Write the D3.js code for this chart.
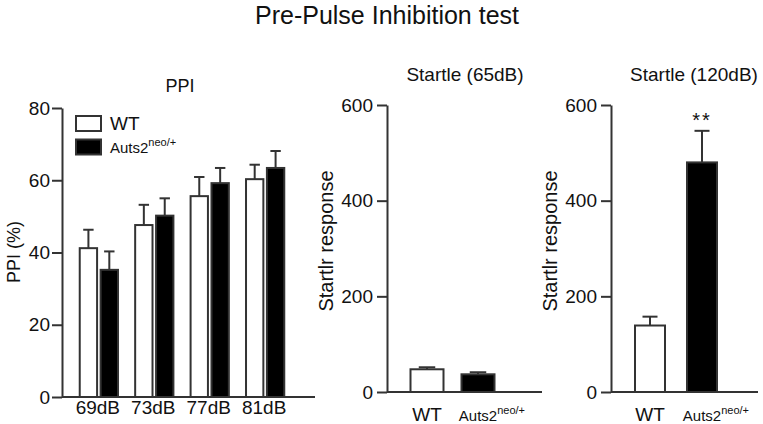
<!DOCTYPE html>
<html lang="en">
<head>
    <meta charset="UTF-8">
    <title>Pre-Pulse Inhibition test</title>
    <script src="https://d3js.org/d3.v7.min.js"></script>
    <style>
        body { margin: 0; background: #fff; }
        text {
            font-family: "Liberation Sans", Arial, Helvetica, sans-serif;
            fill: #111;
        }
        .axis path, .axis line {
            stroke: #333;
            stroke-width: 2px;
        }
        .axis text { font-size: 19px; }
    </style>
</head>
<body>
    <script>
        // Data
        const dbLevels = ["69dB", "73dB", "77dB", "81dB"];
        const ppiWT = [41.2, 47.6, 55.6, 60.3];
        const ppiWTErr = [5.1, 5.6, 5.3, 4.0];
        const ppiKO = [35.2, 50.2, 59.2, 63.4];
        const ppiKOErr = [5.1, 4.8, 4.2, 4.7];

        const genotypes = ["WT", "Auts2"];
        const startle65 = [47.5, 37];
        const startle65Err = [4.2, 4.3];
        const startle120 = [139, 480];
        const startle120Err = [18.5, 66];

        const ppiTicks = [0, 20, 40, 60, 80];
        const startleTicks = [0, 200, 400, 600];

        const width = 763, height = 424;
        const fill = { WT: "#fff", Auts2: "#000" };

        const svg = d3.select("body").append("svg")
            .attr("width", width)
            .attr("height", height);

        svg.append("text")
            .attr("x", 387)
            .attr("y", 24)
            .attr("text-anchor", "middle")
            .style("font-size", "25px")
            .text("Pre-Pulse Inhibition test");

        // width of a plain string at a given font size
        function textWidth(str, size) {
            const t = svg.append("text").style("font-size", size + "px").text(str);
            const w = t.node().getComputedTextLength();
            t.remove();
            return w;
        }

        // draws "Auts2" with superscript, base word centred (or started) at x
        function auts2Label(g, x, y, anchor) {
            const x0 = anchor === "middle" ? x - textWidth("Auts2", 15) / 2 : x;
            const t = g.append("text")
                .attr("x", x0)
                .attr("y", y)
                .style("font-size", "15px");
            t.append("tspan").text("Auts2");
            t.append("tspan")
                .attr("dy", -7)
                .style("font-size", "11px")
                .text("neo/+");
        }

        function errBar(g, cx, yTop, yErr, capW) {
            g.append("line")
                .attr("x1", cx).attr("x2", cx)
                .attr("y1", yTop).attr("y2", yErr)
                .attr("stroke", "#333").attr("stroke-width", 2);
            g.append("line")
                .attr("x1", cx - capW / 2).attr("x2", cx + capW / 2)
                .attr("y1", yErr).attr("y2", yErr)
                .attr("stroke", "#333").attr("stroke-width", 2);
        }

        function bar(g, x, w, y0, y1, key) {
            g.append("rect")
                .attr("x", x)
                .attr("y", y1)
                .attr("width", w)
                .attr("height", y0 - y1)
                .attr("fill", fill[key])
                .attr("stroke", "#333")
                .attr("stroke-width", 2);
        }

        // ---------- Panel 1: PPI ----------
        const p1 = svg.append("g");
        const y1 = d3.scaleLinear().domain([0, 80]).range([397, 108]);
        const xGroup = d3.scaleBand().domain(dbLevels).range([62, 302])
            .paddingInner(0.31).paddingOuter(0.32);
        const xSub = d3.scaleBand().domain(genotypes).range([0, xGroup.bandwidth()])
            .paddingInner(0.17);

        dbLevels.forEach((db, i) => {
            const gx = xGroup(db);
            [["WT", ppiWT[i], ppiWTErr[i]], ["Auts2", ppiKO[i], ppiKOErr[i]]].forEach(([k, v, e]) => {
                const bx = gx + xSub(k), bw = xSub.bandwidth();
                errBar(p1, bx + bw / 2, y1(v), y1(v + e), bw * 0.6);
                bar(p1, bx, bw, y1(0), y1(v), k);
            });
            p1.append("text")
                .attr("x", gx + xGroup.bandwidth() / 2 - 1)
                .attr("y", 414)
                .attr("text-anchor", "middle")
                .style("font-size", "19px")
                .text(db);
        });

        p1.append("g").attr("class", "axis")
            .attr("transform", "translate(62,0)")
            .call(d3.axisLeft(y1).tickValues(ppiTicks).tickSize(10).tickSizeOuter(0).tickPadding(2));
        p1.append("line")
            .attr("x1", 62).attr("x2", 315)
            .attr("y1", y1(0)).attr("y2", y1(0))
            .attr("stroke", "#333").attr("stroke-width", 2);

        p1.append("text")
            .attr("x", 180).attr("y", 92)
            .attr("text-anchor", "middle")
            .style("font-size", "18px")
            .text("PPI");
        p1.append("text")
            .attr("transform", "translate(20,252) rotate(-90)")
            .attr("text-anchor", "middle")
            .style("font-size", "18px")
            .text("PPI (%)");

        // legend
        const leg = p1.append("g");
        genotypes.forEach((k, i) => {
            leg.append("rect")
                .attr("x", 76).attr("y", 116 + i * 23.5)
                .attr("width", 25).attr("height", 15)
                .attr("fill", fill[k])
                .attr("stroke", "#333").attr("stroke-width", 2);
        });
        leg.append("text").attr("x", 110).attr("y", 130)
            .style("font-size", "19px").text("WT");
        auts2Label(leg, 110, 153, "start");

        // ---------- Panels 2 and 3: startle ----------
        function startlePanel(ax, axEnd, barStart, step, bw, vals, errs, title, titleX) {
            const g = svg.append("g");
            const y = d3.scaleLinear().domain([0, 600]).range([392, 105]);
            const x = d3.scaleBand().domain(genotypes)
                .range([barStart, barStart + step + bw]).paddingInner(1 - bw / step).paddingOuter(0);

            genotypes.forEach((k, i) => {
                const bx = x(k), w = x.bandwidth();
                errBar(g, bx + w / 2, y(vals[i]), y(vals[i] + errs[i]), w / 2);
                bar(g, bx, w, y(0), y(vals[i]), k);
            });

            g.append("g").attr("class", "axis")
                .attr("transform", `translate(${ax},0)`)
                .call(d3.axisLeft(y).tickValues(startleTicks).tickSize(10).tickSizeOuter(0).tickPadding(4));
            g.append("line")
                .attr("x1", ax).attr("x2", axEnd)
                .attr("y1", y(0)).attr("y2", y(0))
                .attr("stroke", "#333").attr("stroke-width", 2);

            g.append("text")
                .attr("x", x("WT") + x.bandwidth() / 2)
                .attr("y", 421)
                .attr("text-anchor", "middle")
                .style("font-size", "19px")
                .text("WT");
            auts2Label(g, x("Auts2") + x.bandwidth() / 2, 421, "middle");

            g.append("text")
                .attr("x", titleX).attr("y", 81)
                .attr("text-anchor", "middle")
                .style("font-size", "19px")
                .text(title);
            g.append("text")
                .attr("transform", `translate(${ax - 54},241) rotate(-90)`)
                .attr("text-anchor", "middle")
                .style("font-size", "20px")
                .text("Startlr response");
            return { g, x, y };
        }

        startlePanel(387, 542, 410.5, 51, 33, startle65, startle65Err, "Startle (65dB)", 465);
        const p3 = startlePanel(611, 758, 635, 52, 30, startle120, startle120Err, "Startle (120dB)", 694);

        // significance marker
        p3.g.append("text")
            .attr("x", p3.x("Auts2") + p3.x.bandwidth() / 2)
            .attr("y", 127)
            .attr("text-anchor", "middle")
            .style("font-size", "20px")
            .style("letter-spacing", "2px")
            .text("**");
    </script>
</body>
</html>
